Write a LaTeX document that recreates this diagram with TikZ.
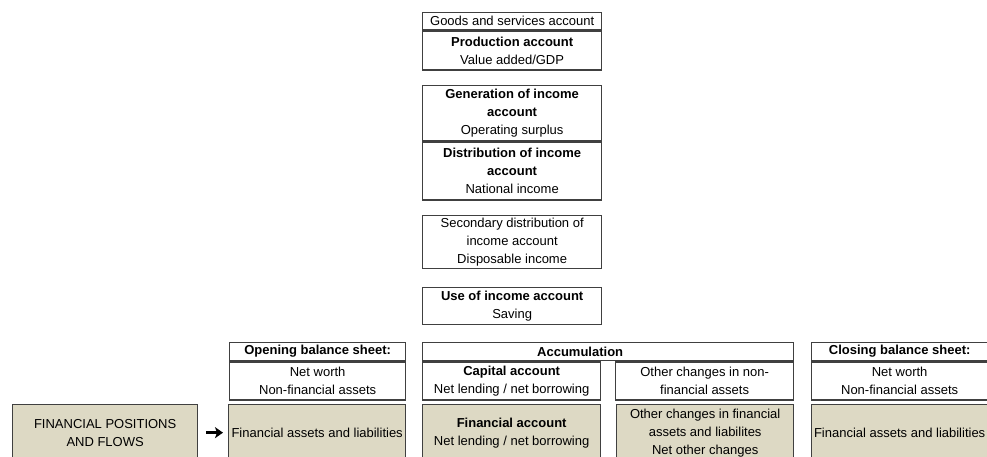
\documentclass[tikz,border=0pt]{standalone}
\usepackage{fontspec}
\setmainfont{Liberation Sans}
\usetikzlibrary{arrows.meta,positioning}
\definecolor{finfill}{RGB}{221,217,196}
\definecolor{boxline}{RGB}{64,64,64}

\begin{document}
\begin{tikzpicture}[x=1pt,y=-1pt,
    acct/.style={draw=boxline, line width=1.3pt, align=center, inner sep=0pt,
        font=\fontsize{13}{18}\selectfont},
    head/.style={acct, minimum height=18pt, font=\fontsize{13}{18}\selectfont\bfseries},
    finbox/.style={acct, fill=finfill, minimum height=56pt, anchor=north west}]

    \useasboundingbox (0,0) rectangle (987,456);

    % the current accounts, one under the other
    \node[acct, anchor=north west, minimum width=179pt, minimum height=17pt] (goods) at (422,12) {Goods and services account};
    \node[acct, anchor=north, minimum width=179pt, minimum height=39pt] (prod) at (goods.south) {\textbf{Production account}\\Value added/GDP};

    \node[acct, anchor=north west, minimum width=179pt, minimum height=55pt] (gen) at (422,85) {\textbf{Generation of income}\\\textbf{account}\\Operating surplus};
    \node[acct, anchor=north, minimum width=179pt, minimum height=58pt] (dist) at (gen.south) {\textbf{Distribution of income}\\\textbf{account}\\National income};

    \node[acct, anchor=north west, minimum width=179pt, minimum height=53pt] (second) at (422,215) {Secondary distribution of\\income account\\Disposable income};
    \node[acct, anchor=north west, minimum width=179pt, minimum height=37pt] (use) at (422,287) {\textbf{Use of income account}\\Saving};

    % balance sheets and accumulation
    \node[head, anchor=north west, minimum width=176pt] (open) at (229,342) {Opening balance sheet:};
    \node[acct, anchor=north, minimum width=176pt, minimum height=38pt] (openbody) at (open.south) {Net worth\\Non-financial assets};

    \node[head, anchor=north west, minimum width=371pt] (accum) at (422,342) {\hbox{Accumulation\kern56pt}};
    \node[acct, anchor=north west, minimum width=178pt, minimum height=38pt] (capital) at (accum.south west) {\textbf{Capital account}\\Net lending / net borrowing};
    \node[acct, anchor=north east, minimum width=178pt, minimum height=38pt] (othernf) at (accum.south east) {Other changes in non-\\financial assets};

    \node[head, anchor=north west, minimum width=176pt] (close) at (811,342) {Closing balance sheet:};
    \node[acct, anchor=north, minimum width=176pt, minimum height=38pt] (closebody) at (close.south) {Net worth\\Non-financial assets};

    % financial row
    \node[finbox, minimum width=185pt] (fpf) at (12,404) {FINANCIAL POSITIONS\\AND FLOWS};
    \node[finbox, minimum width=177pt] (openfin) at (228,404) {Financial assets and liabilities};
    \node[finbox, minimum width=178pt] (finacc) at (422,404) {\textbf{Financial account}\\Net lending / net borrowing};
    \node[finbox, minimum width=177pt] (otherfin) at (616,404) {Other changes in financial\\assets and liabilites\\Net other changes};
    \node[finbox, minimum width=176pt] (closefin) at (811,404) {Financial assets and liabilities};

    \draw[line width=2.6pt, -{Stealth[length=8pt,width=11pt,inset=2pt]}, shorten <=8pt, shorten >=5pt] (fpf.east) -- (openfin.west);
\end{tikzpicture}
\end{document}
